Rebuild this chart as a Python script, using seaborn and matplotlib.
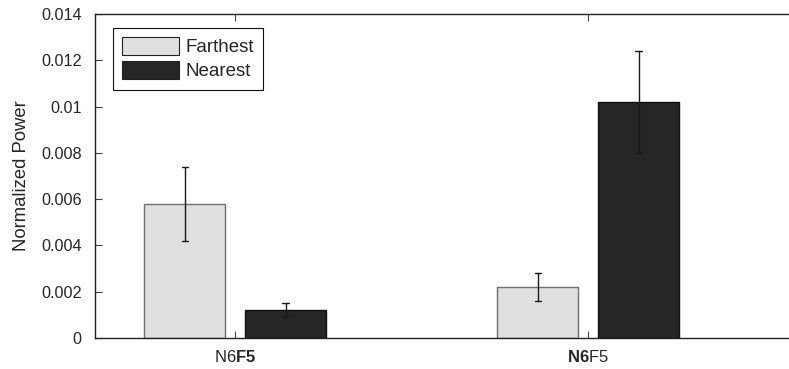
import numpy as np
import pandas as pd
import matplotlib
matplotlib.use("Agg")
import matplotlib.pyplot as plt
from matplotlib.ticker import FixedLocator, FixedFormatter
import seaborn as sns

# Data
conditions = ["N6F5_a", "N6F5_b"]
condition_labels = [r"N6$\mathbf{F5}$", r"$\mathbf{N6}$F5"]
groups = ["Farthest", "Nearest"]
farthest_mean = [0.0058, 0.0022]
farthest_err = [0.0016, 0.0006]
nearest_mean = [0.0012, 0.0102]
nearest_err = [0.0003, 0.0022]
y_ticks = [0, 0.002, 0.004, 0.006, 0.008, 0.01, 0.012, 0.014]

# Long-form table: each bar gets (mean - err, mean, mean + err) so the
# estimator gives the mean and the min/max interval gives the error bar.
rows = []
for grp, means, errs in [("Farthest", farthest_mean, farthest_err),
                         ("Nearest", nearest_mean, nearest_err)]:
    for cond, m, e in zip(conditions, means, errs):
        for v in (m - e, m, m + e):
            rows.append({"condition": cond, "group": grp, "power": v})
df = pd.DataFrame(rows)

sns.set_style("ticks")
plt.rcParams["font.family"] = ["Liberation Sans", "DejaVu Sans"]
plt.rcParams["mathtext.fontset"] = "custom"
plt.rcParams["mathtext.rm"] = "Liberation Sans"
plt.rcParams["mathtext.bf"] = "Liberation Sans:bold"

fig = plt.figure(figsize=(7.89, 3.69), dpi=100)
ax = fig.add_axes([95 / 789, 31 / 369, 694 / 789, 324 / 369])

palette = {"Farthest": "#e0e0e0", "Nearest": "#262626"}
sns.barplot(data=df, x="condition", y="power", hue="group",
            order=conditions, hue_order=groups, palette=palette,
            estimator="mean", errorbar=lambda v: (v.min(), v.max()),
            width=0.571, gap=0.2, capsize=0.035, saturation=1,
            err_kws={"color": "#1a1a1a", "linewidth": 1.0},
            linewidth=1.0, edgecolor="#111111", ax=ax)

# Lighter outline for the light bars
for p in ax.patches:
    fc = p.get_facecolor()
    if fc[0] > 0.5:
        p.set_edgecolor("#707070")

ax.set_xlim(-0.397, 1.569)
ax.set_ylim(0, 0.014)
ax.yaxis.set_major_locator(FixedLocator(y_ticks))
ax.yaxis.set_major_formatter(FixedFormatter([f"{v:g}" for v in y_ticks]))
ax.set_xticks(range(len(conditions)))
ax.set_xticklabels(condition_labels, fontsize=12)
ax.tick_params(axis="y", labelsize=11.7, pad=9.5)
ax.tick_params(axis="x", pad=8)
ax.tick_params(direction="in", top=True, right=False, length=5, width=0.8,
               color="#444444")
ax.set_xlabel("")
ax.set_ylabel("Normalized Power", fontsize=13.3, labelpad=8)

for side in ["left", "top", "bottom"]:
    ax.spines[side].set_visible(True)
    ax.spines[side].set_linewidth(1.0)
    ax.spines[side].set_color("#222222")
ax.spines["right"].set_visible(False)

handles, labels = ax.get_legend_handles_labels()
for h in handles:
    h.set_edgecolor("#222222")
    h.set_linewidth(0.8)
leg = ax.legend(handles, labels, loc="upper left",
                bbox_to_anchor=(18 / 694, 1 - 14 / 324), borderaxespad=0,
                fontsize=13.5, handlelength=3.0, handleheight=1.05,
                handletextpad=0.35, labelspacing=0.25, borderpad=0.5,
                fancybox=False, framealpha=1, edgecolor="#111111")
leg.get_frame().set_linewidth(0.8)

fig.savefig("out.png", dpi=100)
